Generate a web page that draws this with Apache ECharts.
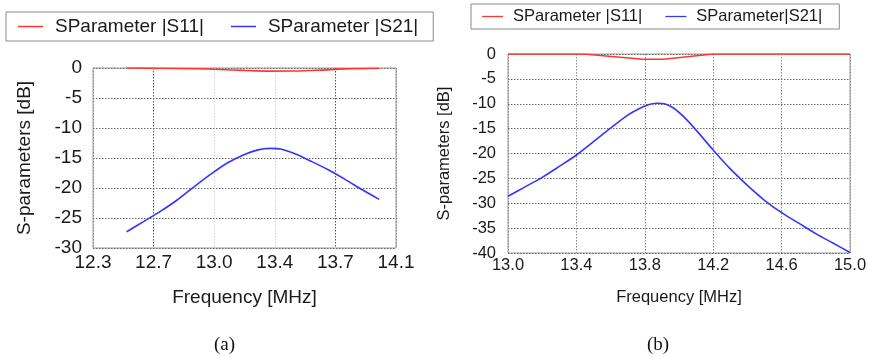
<!DOCTYPE html>
<html>
<head>
<meta charset="utf-8">
<script src="https://cdn.jsdelivr.net/npm/echarts@6/dist/echarts.min.js"></script>
<style>
html,body{margin:0;padding:0;background:#fff;}
#chart{width:870px;height:357px;}
</style>
</head>
<body>
<div id="chart"></div>
<script>
// ---- Data: chart (a) ----
const freqA_S11 = [12.50, 12.70, 12.90, 13.05, 13.20, 13.35, 13.50, 13.65, 13.80, 14.00];
const valA_S11  = [0, -0.05, -0.12, -0.25, -0.40, -0.52, -0.50, -0.35, -0.15, -0.05];
const freqA_S21 = [12.50, 12.60, 12.70, 12.80, 12.90, 13.00, 13.10, 13.20, 13.28, 13.35, 13.42, 13.50, 13.60, 13.70, 13.80, 13.90, 14.00];
const valA_S21  = [-27.3, -25.6, -23.9, -22.0, -19.8, -17.7, -15.8, -14.4, -13.65, -13.4, -13.55, -14.3, -15.6, -17.0, -18.6, -20.3, -21.9];
const ticksA_x  = [12.3, 12.66, 13.02, 13.38, 13.74, 14.1];

// ---- Data: chart (b) ----
const freqB_S11 = [13.00, 13.44, 13.79, 13.91, 14.20, 15.00];
const valB_S11  = [0, 0, -1.05, -1.05, 0, 0];
const freqB_S21 = [13.00, 13.10, 13.20, 13.30, 13.40, 13.50, 13.60, 13.70, 13.76, 13.82, 13.87, 13.92, 13.97, 14.03, 14.10, 14.20, 14.30, 14.40, 14.50, 14.60, 14.70, 14.80, 14.90, 15.00];
const valB_S21  = [-28.6, -26.7, -24.8, -22.6, -20.3, -17.6, -14.9, -12.3, -11.1, -10.2, -9.9, -10.05, -10.9, -12.7, -15.3, -19.3, -23.1, -26.4, -29.4, -31.9, -34.0, -36.1, -38.0, -39.9];
const ticksB_x  = [13.0, 13.4, 13.8, 14.2, 14.6, 15.0];

const nameS11 = 'SParameter |S11|';
const nameS21a = 'SParameter |S21|';
const nameS21b = 'SParameter|S21|';

function pairs(xs, ys){ return xs.map((x,i)=>[x, ys[i]]); }

const FONT = '"Liberation Sans", Arial, sans-serif';
const TXT = '#1a1a1a';
const RED = '#ff3535';
const BLUE = '#3535ff';
const LINE_ICON = 'path://M0,0H25V1.5H0Z';

const chart = echarts.init(document.getElementById('chart'), null, {renderer:'canvas'});

function xAxisCfg(gridIndex, ticks, fs, nameGap, labelMargin, splitColors){
  return {
    type:'value', gridIndex, min: ticks[0], max: ticks[ticks.length-1],
    name:'Frequency [MHz]', nameLocation:'middle', nameGap,
    nameTextStyle:{fontFamily:FONT, fontSize:fs, color:TXT},
    axisLine:{show:false},
    axisTick:{show:false, customValues: ticks},
    axisLabel:{customValues: ticks, formatter:(v)=>v.toFixed(1), fontFamily:FONT, fontSize:fs, color:TXT, margin:labelMargin, showMinLabel:true, showMaxLabel:true},
    splitLine:{show:true, lineStyle:{color: splitColors, type:[1.5,1.5], width:1}}
  };
}
function yAxisCfg(gridIndex, min, fs, nameGap, labelMargin){
  return {
    type:'value', gridIndex, min, max:0, interval:5,
    name:'S-parameters [dB]', nameLocation:'middle', nameGap,
    nameTextStyle:{fontFamily:FONT, fontSize:fs, color:TXT},
    axisLine:{show:false}, axisTick:{show:false},
    axisLabel:{fontFamily:FONT, fontSize:fs, color:TXT, margin:labelMargin},
    splitLine:{show:true, lineStyle:{color:'#6a6a6a', type:[1.5,1.5], width:1}}
  };
}

const option = {
  animation:false,
  backgroundColor:'#ffffff',
  legend:[
    {
      left:6, top:12, padding:[5,15,5,12], itemGap:27, itemWidth:25, itemHeight:14,
      borderColor:'#8a8a8a', borderWidth:1, selectedMode:false, icon:LINE_ICON,
      data:[nameS11, nameS21a],
      textStyle:{fontFamily:FONT, fontSize:19, lineHeight:19, color:TXT, padding:[0,0,0,7]}
    },
    {
      left:471, top:4, padding:[4,17,4,11], itemGap:23, itemWidth:21, itemHeight:12,
      borderColor:'#8a8a8a', borderWidth:1, selectedMode:false, icon:LINE_ICON,
      data:[nameS11, nameS21b],
      textStyle:{fontFamily:FONT, fontSize:16.5, lineHeight:16, color:TXT, padding:[0,0,0,5]}
    }
  ],
  grid:[
    {left:93, top:68, width:303, height:180, show:true, borderColor:'#9a9a9a', borderWidth:1, backgroundColor:'transparent'},
    {left:508, top:54, width:342, height:199, show:true, borderColor:'#9a9a9a', borderWidth:1, backgroundColor:'transparent'}
  ],
  xAxis:[
    xAxisCfg(0, ticksA_x, 19, 40, 5, ['#888','#555','#cfcfcf','#cfcfcf','#555','#888']),
    xAxisCfg(1, ticksB_x, 16.5, 36, 4, ['#8a8a8a'])
  ],
  yAxis:[
    yAxisCfg(0, -30, 19, 59, 11),
    yAxisCfg(1, -40, 16.5, 55, 12)
  ],
  series:[
    {name:nameS11, type:'line', xAxisIndex:0, yAxisIndex:0, data:pairs(freqA_S11, valA_S11), showSymbol:false, symbol:'none', smooth:0.3, lineStyle:{color:RED, width:1.6}, itemStyle:{color:RED}, z:3},
    {name:nameS21a, type:'line', xAxisIndex:0, yAxisIndex:0, data:pairs(freqA_S21, valA_S21), showSymbol:false, symbol:'none', smooth:0.3, lineStyle:{color:BLUE, width:1.6}, itemStyle:{color:BLUE}, z:3},
    {name:nameS11, type:'line', xAxisIndex:1, yAxisIndex:1, data:pairs(freqB_S11, valB_S11), showSymbol:false, symbol:'none', lineStyle:{color:RED, width:1.6}, itemStyle:{color:RED}, z:3},
    {name:nameS21b, type:'line', xAxisIndex:1, yAxisIndex:1, data:pairs(freqB_S21, valB_S21), showSymbol:false, symbol:'none', smooth:0.3, lineStyle:{color:BLUE, width:1.6}, itemStyle:{color:BLUE}, z:3}
  ],
  graphic:[
    {type:'text', left:214, top:336, style:{text:'(a)', font:'19px "Liberation Serif", "Times New Roman", serif', fill:'#111'}},
    {type:'text', left:647, top:336, style:{text:'(b)', font:'19px "Liberation Serif", "Times New Roman", serif', fill:'#111'}}
  ]
};
chart.setOption(option);
</script>
</body>
</html>
